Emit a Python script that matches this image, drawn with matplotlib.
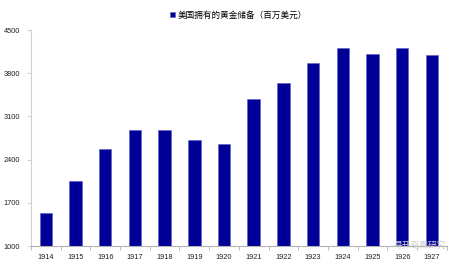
import matplotlib.pyplot as plt
import numpy as np

years = ['1914', '1915', '1916', '1917', '1918', '1919', '1920',
         '1921', '1922', '1923', '1924', '1925', '1926', '1927']
gold_reserve = [1540, 2050, 2575, 2880, 2885, 2720, 2655,
                3375, 3645, 3960, 4210, 4110, 4205, 4090]
y_ticks = [1000, 1700, 2400, 3100, 3800, 4500]
legend_label = '美国拥有的黄金储备（百万美元）'

plt.rcParams['font.family'] = ['Liberation Sans', 'Noto Sans CJK SC', 'DejaVu Sans']

fig = plt.figure(figsize=(4.55, 2.68), dpi=100)
ax = fig.add_axes([0.068, 0.082, 0.914, 0.806])

x = np.arange(len(years))
ax.bar(x, gold_reserve, width=0.42, color='#000096', edgecolor='#5a5ac8',
       linewidth=0.4, label=legend_label, zorder=2)

ax.set_xlim(-0.5, len(years) - 0.5)
ax.set_ylim(y_ticks[0], y_ticks[-1])
ax.set_yticks(y_ticks)
ax.set_xticks(x)
ax.set_xticklabels(years)
ax.set_xticks(np.arange(-0.5, len(years)), minor=True)

for side in ['top', 'right']:
    ax.spines[side].set_visible(False)
ax.spines['left'].set_color('#d0d0d0')
ax.spines['bottom'].set_color('#b0b0b0')
ax.spines['left'].set_linewidth(0.8)
ax.spines['bottom'].set_linewidth(0.8)

ax.tick_params(axis='x', which='major', length=0, labelsize=5.3, pad=6, colors='#222222')
ax.tick_params(axis='x', which='minor', length=3, color='#b0b0b0', width=0.6)
ax.tick_params(axis='y', length=3, color='#d0d0d0', labelsize=5.3, pad=5, colors='#222222')

leg = ax.legend(loc='upper center', bbox_to_anchor=(0.5, 1.125), frameon=False,
                handlelength=0.6, handleheight=0.6, handletextpad=0.3,
                prop={'family': ['Noto Sans CJK SC'], 'size': 6.2})

# 水印
fig.text(0.922, 0.085, '寻开奇霖研究', ha='center', va='center', fontsize=6.3,
         color='#d0d0d0', family=['Noto Sans CJK SC'], zorder=5)

fig.savefig('out.png', dpi=100)
